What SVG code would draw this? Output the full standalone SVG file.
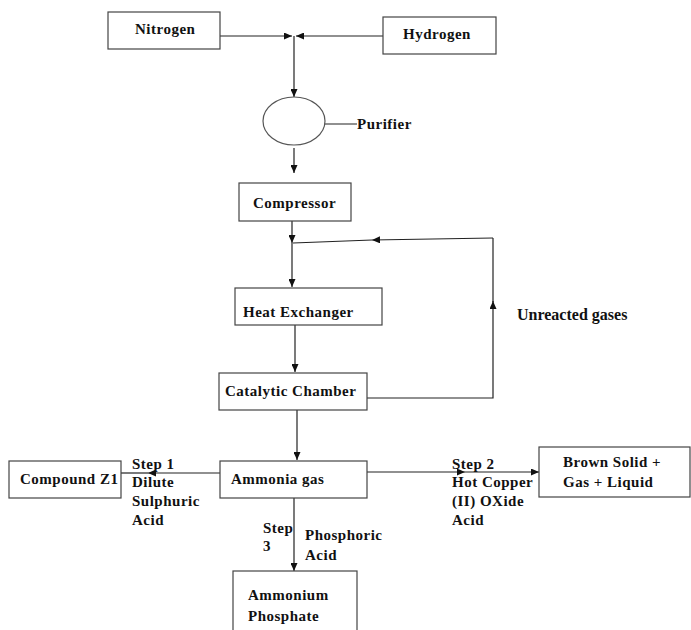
<svg xmlns="http://www.w3.org/2000/svg" width="691" height="630" viewBox="0 0 691 630">
<defs>
<marker id="ah" markerWidth="8" markerHeight="7" refX="8" refY="3.5" orient="auto" markerUnits="userSpaceOnUse">
<path d="M0,0 L8,3.5 L0,7 z" fill="#111"/>
</marker>
<style>
.box{fill:#fff;stroke:#444;stroke-width:1.2}
.t{font-family:"Liberation Serif","Times New Roman",serif;font-weight:bold;font-size:15px;letter-spacing:0.5px;fill:#111}
.u{font-family:"Liberation Serif","Times New Roman",serif;font-weight:bold;font-size:16px;fill:#111}
.c{fill:none;stroke:#222;stroke-width:1.2}
.a{marker-end:url(#ah)}
</style>
</defs>
<rect width="691" height="630" fill="#fff"/>
<g id="connectors">
<line class="c a" x1="220" y1="36" x2="292" y2="36"/>
<line class="c a" x1="383" y1="36" x2="296" y2="36"/>
<line class="c a" x1="294" y1="36" x2="294" y2="97"/>
<line class="c" x1="320" y1="124" x2="357" y2="124"/>
<line class="c a" x1="294" y1="148" x2="294" y2="173"/>
<line class="c a" x1="292" y1="221" x2="292" y2="243"/>
<line class="c a" x1="493" y1="238" x2="372" y2="240"/>
<line class="c" x1="372" y1="240" x2="293" y2="243"/>
<line class="c a" x1="292" y1="243" x2="292" y2="287"/>
<line class="c a" x1="295" y1="325" x2="295" y2="372"/>
<path class="c a" d="M367,398 H493 V301"/>
<line class="c" x1="493" y1="302" x2="493" y2="238"/>
<line class="c a" x1="297" y1="410" x2="297" y2="460"/>
<line class="c a" x1="220" y1="473" x2="148" y2="473"/>
<line class="c" x1="148" y1="473" x2="121" y2="473"/>
<line class="c a" x1="367" y1="472" x2="465" y2="472"/>
<line class="c a" x1="465" y1="472" x2="539" y2="472"/>
<line class="c a" x1="294" y1="498" x2="294" y2="571"/>
</g>
<g id="nitrogen"><rect class="box" x="108" y="12" width="112" height="37"/><text class="t" x="135" y="34">Nitrogen</text></g>
<g id="hydrogen"><rect class="box" x="383" y="17" width="113" height="37"/><text class="t" x="403" y="39">Hydrogen</text></g>
<g id="purifier"><ellipse cx="294" cy="121" rx="31" ry="24" fill="#fff" stroke="#555" stroke-width="1.2"/><text class="t" x="357" y="129">Purifier</text></g>
<g id="compressor"><rect class="box" x="239" y="183" width="112" height="38"/><text class="t" x="253" y="208">Compressor</text></g>
<g id="heat-exchanger"><rect class="box" x="235" y="288" width="147" height="37"/><text class="t" x="243" y="317">Heat Exchanger</text></g>
<g id="catalytic-chamber"><rect class="box" x="219" y="373" width="148" height="37"/><text class="t" x="225" y="396">Catalytic Chamber</text></g>
<g id="unreacted-label"><text class="u" x="517" y="320">Unreacted gases</text></g>
<g id="ammonia-gas"><rect class="box" x="220" y="461" width="147" height="37"/><text class="t" x="231" y="484">Ammonia gas</text></g>
<g id="compound-z1"><rect class="box" x="9" y="461" width="112" height="37"/><text class="t" x="20" y="484">Compound Z1</text></g>
<g id="brown-solid"><rect class="box" x="539" y="447" width="151" height="50"/><text class="t" x="563" y="467">Brown Solid +</text><text class="t" x="563" y="487">Gas + Liquid</text></g>
<g id="ammonium-phosphate"><rect class="box" x="233" y="571" width="124" height="70"/><text class="t" x="248" y="600">Ammonium</text><text class="t" x="248" y="621">Phosphate</text></g>
<g id="step1"><text class="t" x="132" y="469">Step 1</text><text class="t" x="132" y="487">Dilute</text><text class="t" x="132" y="506">Sulphuric</text><text class="t" x="132" y="525">Acid</text></g>
<g id="step2"><text class="t" x="452" y="469">Step 2</text><text class="t" x="452" y="487">Hot Copper</text><text class="t" x="452" y="506">(II) OXide</text><text class="t" x="452" y="525">Acid</text></g>
<g id="step3"><text class="t" x="263" y="533">Step</text><text class="t" x="263" y="551">3</text><text class="t" x="305" y="540">Phosphoric</text><text class="t" x="305" y="560">Acid</text></g>
</svg>
